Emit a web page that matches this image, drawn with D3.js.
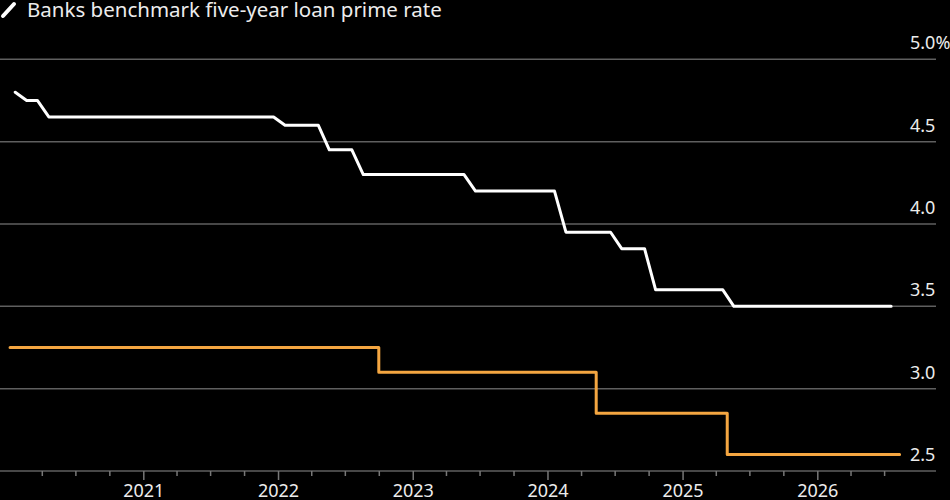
<!DOCTYPE html>
<html>
<head>
<meta charset="utf-8">
<script src="https://cdn.jsdelivr.net/npm/d3@7"></script>
<style>
  body { margin: 0; background: #000; }
  svg { display: block; }
  text { font-family: "Noto Sans", "Open Sans", sans-serif; fill: #ececec; }
</style>
</head>
<body>
<script>
// Five-year loan prime rate, monthly fixing (20th of each month)
const lprMonths = [
    "2020-01","2020-02","2020-03","2020-04","2020-05","2020-06","2020-07","2020-08","2020-09","2020-10","2020-11","2020-12",
    "2021-01","2021-02","2021-03","2021-04","2021-05","2021-06","2021-07","2021-08","2021-09","2021-10","2021-11","2021-12",
    "2022-01","2022-02","2022-03","2022-04","2022-05","2022-06","2022-07","2022-08","2022-09","2022-10","2022-11","2022-12",
    "2023-01","2023-02","2023-03","2023-04","2023-05","2023-06","2023-07","2023-08","2023-09","2023-10","2023-11","2023-12",
    "2024-01","2024-02","2024-03","2024-04","2024-05","2024-06","2024-07","2024-08","2024-09","2024-10","2024-11","2024-12",
    "2025-01","2025-02","2025-03","2025-04","2025-05","2025-06","2025-07","2025-08","2025-09","2025-10","2025-11","2025-12",
    "2026-01","2026-02","2026-03","2026-04","2026-05","2026-06","2026-07"
];
const lprValues = [
    4.80,4.75,4.75,4.65,4.65,4.65,4.65,4.65,4.65,4.65,4.65,4.65,
    4.65,4.65,4.65,4.65,4.65,4.65,4.65,4.65,4.65,4.65,4.65,4.65,
    4.60,4.60,4.60,4.60,4.45,4.45,4.45,4.30,4.30,4.30,4.30,4.30,
    4.30,4.30,4.30,4.30,4.30,4.20,4.20,4.20,4.20,4.20,4.20,4.20,
    4.20,3.95,3.95,3.95,3.95,3.95,3.85,3.85,3.85,3.60,3.60,3.60,
    3.60,3.60,3.60,3.60,3.50,3.50,3.50,3.50,3.50,3.50,3.50,3.50,
    3.50,3.50,3.50,3.50,3.50,3.50,3.50
];

// Second (orange) series: step changes
const stepDates  = ["2020-01-06", "2022-10-01", "2024-05-12", "2025-05-02", "2026-08-12"];
const stepValues = [3.25, 3.10, 2.85, 2.60, 2.60];

const yTicks = [2.5, 3.0, 3.5, 4.0, 4.5, 5.0];
const legendLabel = "Banks benchmark five-year loan prime rate";

const width = 950;
const height = 500;

const parseMonth = d3.timeParse("%Y-%m");
const parseDay = d3.timeParse("%Y-%m-%d");

const lpr = lprMonths.map((m, i) => {
    const d = parseMonth(m);
    d.setDate(20);
    return { date: d, value: lprValues[i] };
});
const steps = stepDates.map((s, i) => ({ date: parseDay(s), value: stepValues[i] }));

const svg = d3.select("body").append("svg")
    .attr("width", width)
    .attr("height", height);

const xscale = d3.scaleTime()
    .domain([new Date(2021, 0, 1), new Date(2026, 0, 1)])
    .range([143.3, 817.3]);

const yscale = d3.scaleLinear()
    .domain([2.5, 5.0])
    .range([471, 59.3]);

const gridRight = 936;

// horizontal gridlines
svg.append("g").selectAll("line")
    .data(yTicks)
    .join("line")
    .attr("x1", 0)
    .attr("x2", gridRight)
    .attr("y1", d => yscale(d))
    .attr("y2", d => yscale(d))
    .attr("stroke", "#5f5f5f")
    .attr("stroke-width", 1.5);

// y labels sit above their gridline
svg.append("g").selectAll("text")
    .data(yTicks)
    .join("text")
    .attr("x", 910)
    .attr("y", d => yscale(d) - 10)
    .attr("font-size", 18)
    .text(d => d === 5.0 ? "5.0%" : d.toFixed(1));

// x axis: quarterly minor ticks, yearly major ticks
const quarterTicks = d3.timeMonth.every(3).range(new Date(2020, 3, 1), new Date(2026, 7, 1));
const minorTicks = quarterTicks.filter(d => d.getMonth() !== 0);
const yearTicks = quarterTicks.filter(d => d.getMonth() === 0);

const xMinor = d3.axisBottom(xscale).tickValues(minorTicks).tickSize(5).tickFormat("");
const xMajor = d3.axisBottom(xscale).tickValues(yearTicks).tickSize(9)
    .tickFormat(d3.timeFormat("%Y"));

[xMinor, xMajor].forEach(ax => {
    const g = svg.append("g")
        .attr("transform", `translate(0, ${yscale(2.5)})`)
        .call(ax);
    g.select(".domain").remove();
    g.selectAll(".tick line").attr("stroke", "#777").attr("stroke-width", 1.5);
    g.selectAll(".tick text")
        .attr("font-size", 18)
        .attr("font-family", "Noto Sans, Open Sans, sans-serif")
        .attr("fill", "#ececec")
        .attr("y", 26)
        .attr("dy", 0);
});

// orange step series
const stepLine = d3.line()
    .x(d => xscale(d.date))
    .y(d => yscale(d.value))
    .curve(d3.curveStepAfter);

svg.append("path")
    .datum(steps)
    .attr("d", stepLine)
    .attr("fill", "none")
    .attr("stroke", "#f4a641")
    .attr("stroke-width", 3)
    .attr("stroke-linecap", "round")
    .attr("stroke-linejoin", "round");

// white LPR line
const lprLine = d3.line()
    .x(d => xscale(d.date))
    .y(d => yscale(d.value));

svg.append("path")
    .datum(lpr)
    .attr("d", lprLine)
    .attr("fill", "none")
    .attr("stroke", "#ffffff")
    .attr("stroke-width", 3)
    .attr("stroke-linecap", "round")
    .attr("stroke-linejoin", "round");

// legend
svg.append("line")
    .attr("x1", 3).attr("y1", 16)
    .attr("x2", 14).attr("y2", 4)
    .attr("stroke", "#fff")
    .attr("stroke-width", 4)
    .attr("stroke-linecap", "round");

svg.append("text")
    .attr("x", 27)
    .attr("y", 17)
    .attr("font-size", 20.5)
    .text(legendLabel);
</script>
</body>
</html>
